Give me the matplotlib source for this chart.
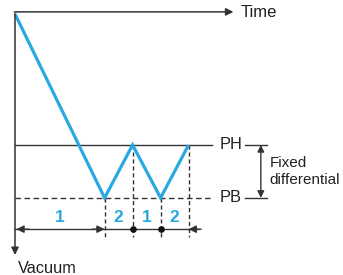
import matplotlib.pyplot as plt

# cycle: time (1 unit = one half cycle) and vacuum depth (1 unit = PH->PB)
t_pts = [0, 3.2, 4.2, 5.2, 6.2]
vac_pts = [0, 3.47, 2.47, 3.47, 2.47]
PH, PB = 2.47, 3.47
phase_labels = ['1', '2', '1', '2']
blue = '#29a9e1'
ink = '#333333'

plt.rcParams['font.family'] = ['Liberation Sans', 'DejaVu Sans']

fig = plt.figure(figsize=(3.43, 2.75), dpi=100)
ax = fig.add_axes([0, 0, 1, 1])
ax.set_xlim(-15 / 28, 328 / 28)
ax.set_ylim(261 / 53, -14 / 53)
ax.axis('off')

# axes
ax.annotate('', xy=(7.9, -0.04), xytext=(-0.12, -0.04),
            arrowprops=dict(arrowstyle='-|>', color=ink, lw=1.1, mutation_scale=11))
ax.text(8.05, -0.02, 'Time', fontsize=12, va='center', ha='left', color='#222')
ax.annotate('', xy=(0, 4.6), xytext=(0, -0.06),
            arrowprops=dict(arrowstyle='-|>', color=ink, lw=1.1, mutation_scale=11))
ax.text(0.1, 4.8, 'Vacuum', fontsize=11.8, va='center', ha='left', color='#222')

# PH / PB levels
ax.plot([0, 7.05], [PH, PH], color=ink, lw=1.0)
ax.plot([0, 7.05], [PB, PB], color=ink, lw=1.0, ls=(0, (4, 2.5)))
ax.text(7.3, PH, 'PH', fontsize=11.8, va='center', ha='left', color='#222')
ax.text(7.3, PB, 'PB', fontsize=11.8, va='center', ha='left', color='#222')
ax.plot([8.2, 9.0], [PH, PH], color=ink, lw=1.0)
ax.plot([8.2, 9.0], [PB, PB], color=ink, lw=1.0)
ax.annotate('', xy=(8.78, PH), xytext=(8.78, PB),
            arrowprops=dict(arrowstyle='<|-|>', color=ink, lw=1.0, mutation_scale=10,
                            shrinkA=0, shrinkB=0))
ax.text(9.1, (PH + PB) / 2, 'Fixed\ndifferential', fontsize=11, va='center', ha='left',
        color='#222', linespacing=1.25)

# dashed drop lines
for t, v in zip(t_pts[1:], vac_pts[1:]):
    ax.plot([t, t], [v, 4.2], color=ink, lw=1.0, ls=(0, (3, 2)))

# dimension line
dim_y = 4.06
ax.plot([0, 6.55], [dim_y, dim_y], color=ink, lw=1.0)
ap = dict(arrowstyle='-|>', color=ink, lw=1.0, mutation_scale=11, shrinkA=0, shrinkB=0)
ax.annotate('', xy=(0.05, dim_y), xytext=(0.5, dim_y), arrowprops=ap)
ax.annotate('', xy=(t_pts[1], dim_y), xytext=(t_pts[1] - 0.45, dim_y), arrowprops=ap)
ax.annotate('', xy=(t_pts[4], dim_y), xytext=(t_pts[4] + 0.45, dim_y), arrowprops=ap)
ax.plot(t_pts[2:4], [dim_y, dim_y], 'o', color='#111', ms=3.8)

# phase numbers
for a, b, lab in zip(t_pts[:-1], t_pts[1:], phase_labels):
    ax.text((a + b) / 2, 3.84, lab, fontsize=12.5, fontweight='bold', color=blue,
            ha='center', va='center')

# vacuum trace
ax.plot(t_pts, vac_pts, color=blue, lw=2.3, solid_capstyle='butt', solid_joinstyle='miter')

fig.savefig('out.png', dpi=100)
